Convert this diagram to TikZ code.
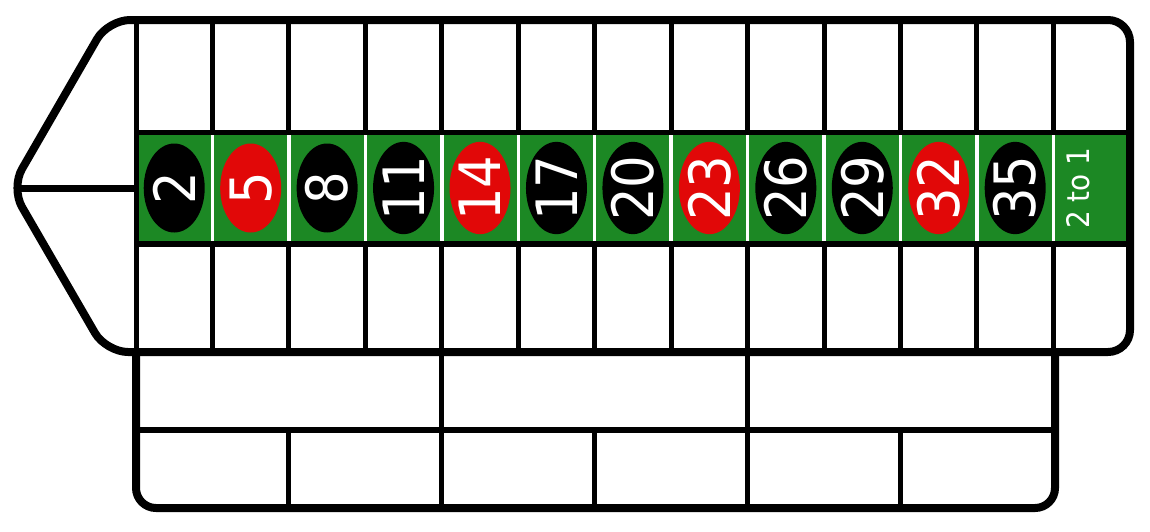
\documentclass[tikz,border=0pt]{standalone}
\usepackage{fontspec}
\setmainfont{DejaVu Sans}
\usetikzlibrary{shapes.geometric}
\definecolor{felt}{RGB}{28,136,36}
\definecolor{chipred}{RGB}{225,8,8}
\newcommand{\chiptext}[1]{\rotatebox{90}{\scalebox{0.9}[1]{#1}}}
\begin{document}
\begin{tikzpicture}[x=1pt,y=-1pt,
  outerline/.style={line width=8pt, rounded corners=22pt, line join=round},
  hline/.style={line width=6.5pt},
  vline/.style={line width=5pt},
  sepline/.style={white, line width=3.5pt},
  chip/.style={ellipse, minimum width=61pt, minimum height=89pt, inner sep=0pt, text=white,
    font=\fontsize{57pt}{57pt}\selectfont},
  blackchip/.style={chip, fill=black},
  redchip/.style={chip, fill=chipred},
  labeltext/.style={text=white, inner sep=0pt, font=\fontsize{31pt}{31pt}\selectfont}]
\useasboundingbox (0,0) rectangle (1150,531);
\def\cw{76.45}
% green band
\fill[felt] (136,132) rectangle (1130,244);
% white separators in the band
\foreach \i in {1,...,12}{
  \draw[sepline] ({136+\i*\cw},135) -- ({136+\i*\cw},241);
}
% chips
\foreach \n/\c [count=\k from 0] in {2/blackchip,5/redchip,8/blackchip,11/blackchip,14/redchip,17/blackchip,20/blackchip,23/redchip,26/blackchip,29/blackchip,32/redchip,35/blackchip}{
  \node[\c] (chip\n) at ({136+(\k+0.5)*\cw},188) {\chiptext{\n}};
}
\node[labeltext, rotate=90] (twotoone) at (1078.5,188) {\scalebox{0.9}[1]{2 to 1}};
% top and bottom row verticals
\foreach \i in {1,...,12}{
  \draw[vline] ({136+\i*\cw},20) -- ({136+\i*\cw},132);
  \draw[vline] ({136+\i*\cw},244) -- ({136+\i*\cw},352);
}
\draw[vline] (136,20) -- (136,352);
% horizontals of main grid
\draw[line width=5pt] (136,132.5) -- (1130,132.5);
\draw[hline] (136,244) -- (1130,244);
% apex line
\coordinate (tip) at (18,188.5);
\coordinate (gridleft) at (136,188.5);
\draw[hline] (tip) -- (gridleft);
% main outline
\coordinate (bl) at (106,352);
\coordinate (apex) at (11,188);
\coordinate (tl) at (108,20);
\coordinate (tr) at (1130,20);
\coordinate (br) at (1130,352);
\draw[outerline] (600,352) -- (bl) -- (apex) -- (tl) -- (tr) -- (br) -- cycle;
% bottom section
\draw[hline] (136,430) -- (1055,430);
\foreach \i in {4,8}{
  \draw[vline] ({136+\i*\cw},352) -- ({136+\i*\cw},430);
}
\foreach \i in {2,4,6,8,10}{
  \draw[vline] ({136+\i*\cw},430) -- ({136+\i*\cw},508);
}
\draw[outerline, rounded corners=20pt] (136,352) -- (136,508) -- (1055,508) -- (1055,352);
\end{tikzpicture}
\end{document}
